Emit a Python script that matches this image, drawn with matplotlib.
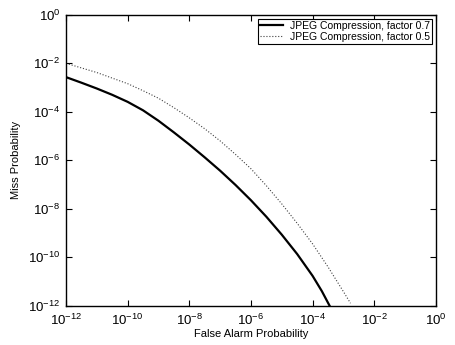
import numpy as np
import matplotlib
matplotlib.use("Agg")
import matplotlib.pyplot as plt
from matplotlib.ticker import NullLocator, FuncFormatter

plt.rcParams['font.family'] = ['Liberation Sans', 'DejaVu Sans']
plt.rcParams['mathtext.fontset'] = 'custom'
plt.rcParams['mathtext.rm'] = 'Liberation Sans'
plt.rcParams['mathtext.default'] = 'regular'

# values, as log10 of the probabilities
fa_07 = [-12, -11.5, -11, -10.5, -10, -9.5, -9, -8.5, -8, -7.5, -7, -6.5, -6, -5.5, -5,
         -4.5, -4, -3.7, -3.45]
miss_07 = [-2.57, -2.80, -3.04, -3.30, -3.59, -3.94, -4.37, -4.85, -5.35, -5.88, -6.43,
           -7.02, -7.65, -8.33, -9.07, -9.87, -10.77, -11.4, -12.0]

fa_05 = [-12, -11, -10, -9.5, -9, -8.5, -8, -7.5, -7, -6.5, -6, -5.5, -5, -4.5, -4,
         -3.5, -3, -2.77]
miss_05 = [-2.0, -2.38, -2.84, -3.13, -3.44, -3.83, -4.25, -4.7, -5.2, -5.76, -6.35,
           -7.05, -7.8, -8.6, -9.45, -10.4, -11.42, -11.9]

labels = ['JPEG Compression, factor 0.7', 'JPEG Compression, factor 0.5']

fig = plt.figure(figsize=(4.55, 3.45), dpi=100)
ax = fig.add_axes([0.145, 0.114, 0.813, 0.843])

ax.plot(10.0 ** np.array(fa_07), 10.0 ** np.array(miss_07), 'k-', lw=1.6, label=labels[0])
ax.plot(10.0 ** np.array(fa_05), 10.0 ** np.array(miss_05), color='0.25', ls=':', lw=0.8, label=labels[1])

ax.set_xscale('log')
ax.set_yscale('log')
ax.set_xlim(1e-12, 1)
ax.set_ylim(1e-12, 1)

dec = np.arange(-12, 1, 2)
ax.set_xticks(10.0 ** dec)
ax.set_yticks(10.0 ** dec)
ax.xaxis.set_minor_locator(NullLocator())
ax.yaxis.set_minor_locator(NullLocator())
fmt = FuncFormatter(lambda v, p: r'$10^{%d}$' % int(round(np.log10(v))))
ax.xaxis.set_major_formatter(fmt)
ax.yaxis.set_major_formatter(fmt)
ax.tick_params(direction='in', top=True, right=True, length=4, width=0.8, labelsize=9.5)
ax.tick_params(axis='x', pad=5)
ax.tick_params(axis='y', pad=4)
for s in ax.spines.values():
    s.set_linewidth(1.0)

ax.set_xlabel('False Alarm Probability', fontsize=8, labelpad=1)
ax.set_ylabel('Miss Probability', fontsize=8, labelpad=5)

leg = ax.legend(loc='upper right', fontsize=7.5, frameon=True, fancybox=False,
                edgecolor='k', framealpha=1, borderaxespad=0.4, handlelength=2.2,
                borderpad=0.2, labelspacing=0.05, handletextpad=0.6)
leg.get_frame().set_linewidth(0.8)

fig.savefig('out.png', dpi=100)
